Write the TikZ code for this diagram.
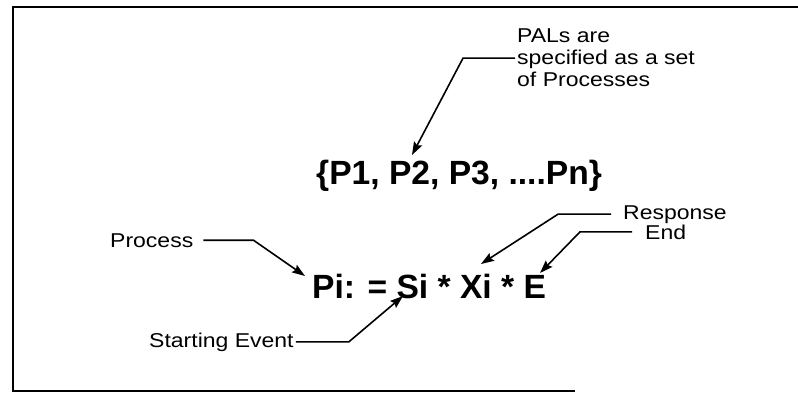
\documentclass[tikz,border=0pt]{standalone}
\usepackage{fontspec}
\setmainfont{Liberation Sans}
\newfontfamily\lblfont[FakeStretch=1.15]{Liberation Sans}
\usetikzlibrary{arrows.meta,positioning,calc}
\tikzset{
  lbl/.style={font=\lblfont\fontsize{20}{22}\selectfont, inner sep=0pt, align=left},
  frm/.style={font=\bfseries\fontsize{33.6}{36}\selectfont, inner sep=0pt},
  arr/.style={-{Stealth[length=13pt,width=9pt,inset=2pt]}, line width=1.6pt},
  rim/.style={line width=1.5pt}
}

\begin{document}
\begin{tikzpicture}[x=1pt,y=-1pt]
\useasboundingbox (0,0) rectangle (798,394);
% frame (cut off on the right)
\draw[rim] (798,7) -- (13,7) -- (13,391) -- (575,391);

% the two formulas
\node[frm, anchor=base west] (set) at (316,184) {\{P1, P2, P3, ....Pn\}};
\node[frm, anchor=base west] (proc) at (312,298) {Pi: = Si * Xi * E};

% labels
\node[lbl, anchor=north west] (pals) at (517,29) {PALs are\\specified as a set\\of Processes};
\node[lbl, anchor=base west] (process) at (110,247) {Process};
\node[lbl, anchor=base west] (start) at (149,347) {Starting Event};
\node[lbl, anchor=base west] (resp) at (623,219) {Response};
\node[lbl, anchor=base west] (endl) at (645,239) {End};

% where the arrows point
\coordinate (tipset) at (412,155);
\coordinate (tipP) at (305,276);
\coordinate (tipS) at (403,296);
\coordinate (tipX) at (481,264);
\coordinate (tipE) at (540,273);

\draw[arr] ([xshift=-2pt]pals.west) -- ++(-52,0) -- (tipset);
\draw[arr] ([xshift=10pt]process.east) -- ++(50,0) -- (tipP);
\draw[arr] ([xshift=2pt]start.east) -- ++(53,0) -- (tipS);
\draw[arr] ([xshift=-12pt]resp.west) -- ++(-53,0) -- (tipX);
\draw[arr] ([xshift=-13pt]endl.west) -- ++(-52,0) -- (tipE);
\end{tikzpicture}
\end{document}
